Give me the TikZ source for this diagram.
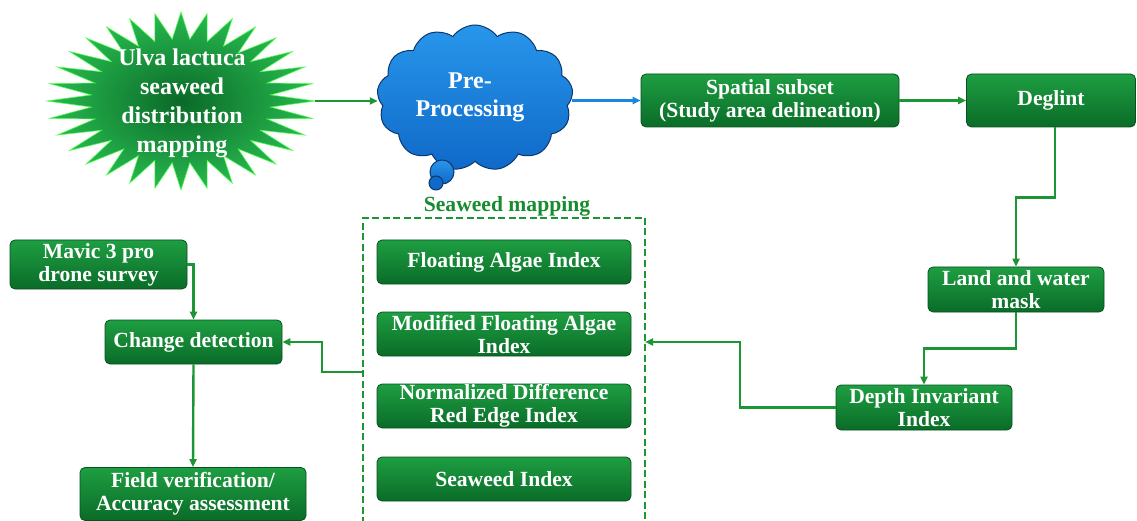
\documentclass[tikz,border=0pt]{standalone}
\usepackage{fontspec}
\setmainfont{Liberation Serif}
\usetikzlibrary{arrows.meta,shapes.symbols,calc}
\definecolor{lnk}{RGB}{28,150,52}
\definecolor{blk}{RGB}{25,135,225}
\definecolor{boxtop}{RGB}{30,158,66}
\definecolor{boxbot}{RGB}{10,108,40}
\definecolor{boxline}{RGB}{8,80,30}
\definecolor{cloudtop}{RGB}{40,150,235}
\definecolor{cloudbot}{RGB}{15,105,200}
\definecolor{cloudline}{RGB}{12,55,110}
\definecolor{titlegreen}{RGB}{22,140,45}
\begin{document}
\begin{tikzpicture}[x=1pt,y=-1pt,
  gbox/.style={rectangle, rounded corners=5pt, draw=boxline, line width=0.8pt,
    top color=boxtop, bottom color=boxbot, text=white,
    font=\bfseries\fontsize{21.6}{23}\selectfont, align=center, inner sep=0pt},
  conn/.style={draw=lnk, line width=2.4pt, -{Triangle[length=8pt,width=7pt]}},
  bconn/.style={draw=blk, line width=2.4pt, -{Triangle[length=8pt,width=7pt]}}]
\useasboundingbox (0,0) rectangle (1137,521);

% starburst
\node[minimum width=268pt, minimum height=178pt, inner sep=0pt] (star) at (181,101) {};
\path[shift={(star.center)}, draw=green!70!white, line width=0.6pt,
      inner color={rgb,255:red,10;green,105;blue,40}, outer color={rgb,255:red,40;green,185;blue,80}]
  (0:134 and 89) \foreach \i in {0,...,31} { -- ({\i*11.25+5.625}:90 and 62) -- ({(\i+1)*11.25}:134 and 89) } -- cycle;
\node[text=white, font=\bfseries\fontsize{24}{29}\selectfont, align=center] (startext) at (182,103)
  {Ulva lactuca\\seaweed\\distribution\\mapping};

% cloud
\node[cloud, cloud puffs=13, cloud puff arc=110, aspect=1.4, draw=cloudline, line width=1pt,
      top color=cloudtop, bottom color=cloudbot, minimum width=196pt, minimum height=146pt,
      inner sep=0pt] (cloud) at (475,98) {};
\node[circle, draw=cloudline, line width=1pt, top color=cloudtop, bottom color=cloudbot,
      minimum size=24pt, inner sep=0pt] (bub1) at (442,172) {};
\node[circle, draw=cloudline, line width=1pt, fill=cloudbot,
      minimum size=14pt, inner sep=0pt] (bub2) at (436,183) {};
\node[text=white, font=\bfseries\fontsize{24}{28}\selectfont, align=center] (cloudtext) at (470,97)
  {Pre-\\Processing};

% top row boxes
\node[gbox, minimum width=258pt, minimum height=53pt] (spatial) at (770,100.5)
  {Spatial subset\\(Study area delineation)};
\node[gbox, minimum width=169pt, minimum height=53pt] (deglint) at (1051,100.5) {Deglint};
\node[gbox, minimum width=176pt, minimum height=45pt] (land) at (1016,289.5) {Land and water\\mask};
\node[gbox, minimum width=176pt, minimum height=45pt] (depth) at (924,407.5) {Depth Invariant\\Index};

% seaweed mapping group
\node[text=titlegreen, font=\bfseries\fontsize{21.6}{23}\selectfont] (grouptitle) at (507,206) {Seaweed mapping};
\draw[draw=lnk, line width=2.4pt, dash pattern=on 7pt off 3.5pt] (363,545) -- (363,218) -- (645,218) -- (645,545);
\coordinate (dashE) at (645,342);
\coordinate (dashW) at (363,372);
\node[gbox, minimum width=254pt, minimum height=44pt] (fai) at (504,262) {Floating Algae Index};
\node[gbox, minimum width=254pt, minimum height=44pt] (mfai) at (504,334) {Modified Floating Algae\\Index};
\node[gbox, minimum width=254pt, minimum height=44pt] (ndre) at (504,406) {Normalized Difference\\Red Edge Index};
\node[gbox, minimum width=254pt, minimum height=44pt] (si) at (504,479) {Seaweed Index};

% left column
\node[gbox, minimum width=177pt, minimum height=49pt] (mavic) at (98.5,264.5) {Mavic 3 pro\\drone survey};
\node[gbox, minimum width=177pt, minimum height=44pt] (change) at (193.5,342) {Change detection};
\node[gbox, minimum width=226pt, minimum height=53pt] (field) at (193,494) {Field verification/\\Accuracy assessment};

% connectors
\draw[conn] (star.east) -- (cloud.west |- star.east);
\draw[bconn] (cloud.east |- spatial.west) -- (spatial.west);
\draw[conn] (spatial.east) -- (deglint.west);
\draw[conn] ([xshift=4pt]deglint.south) -- ++(0,70) -| (land.north);
\draw[conn] (land.south) -- ++(0,36) -| (depth.north);
\draw[conn] (depth.west) -| (740,342) -- (dashE);
\draw[conn] (dashW) -| (322,342) -- (change.east);
\draw[conn] (mavic.east) -| (change.north);
\draw[conn] (change.south) -- (field.north);
\end{tikzpicture}
\end{document}
